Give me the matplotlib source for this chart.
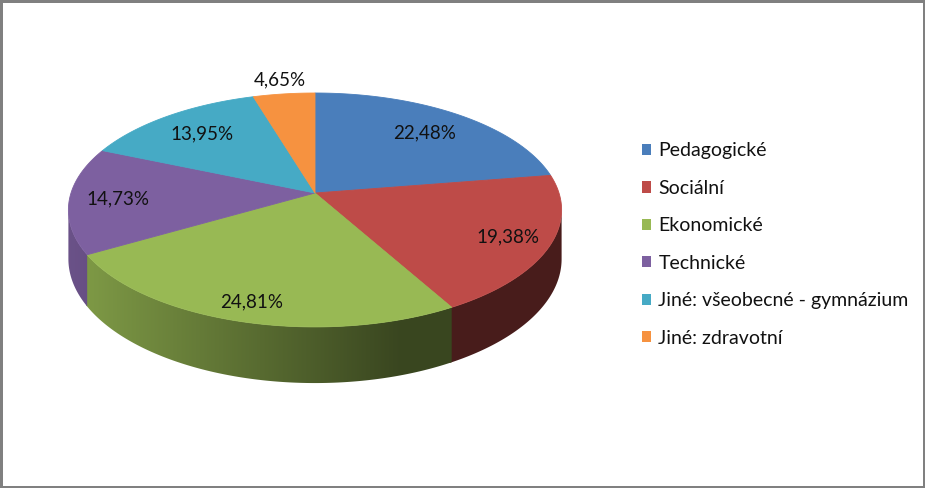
import numpy as np
import matplotlib.pyplot as plt
from matplotlib.patches import Patch, Polygon
from matplotlib.colors import to_rgb

categories = ["Pedagogické", "Sociální", "Ekonomické", "Technické",
              "Jiné: všeobecné - gymnázium", "Jiné: zdravotní"]
counts = [29, 25, 32, 19, 18, 6]
colors = ["#4a7ebb", "#be4b48", "#98b954", "#7d60a0", "#46aac5", "#f69240"]

plt.rcParams['font.family'] = ['Lato', 'DejaVu Sans']

# tilted pie, drawn in pixel units of the figure
CX, CY = 315, 193      # projected centre of the top face
RX, RY = 244, 114.5
PERSP = 0.145          # how much the far edge shrinks
DEPTH = 48


def project(u, v, z=0.0):
    s = 1.0 / (1.0 + PERSP * v)
    return CX + RX * u * s, CY - RY * v * s + z * DEPTH * s


def shade(u):
    # light comes from the left
    return np.clip(0.5 - 0.35 * u, 0.38, 0.86)


fig = plt.figure(figsize=(9.25, 4.88), dpi=100)
ax = fig.add_axes([0, 0, 1, 1])

frac = np.array(counts) / np.sum(counts)
edges = np.concatenate([[0], np.cumsum(frac)]) * 2 * np.pi  # clockwise from 12 o'clock

# visible part of the rim (between the two silhouette points)
vis0 = np.arccos(-PERSP)
vis1 = 2 * np.pi - vis0

# side walls: gradient images clipped to each slice's wall
for i in range(len(counts)):
    a0, a1 = max(edges[i], vis0), min(edges[i + 1] + 0.01, vis1)
    if a1 <= a0:
        continue
    t = np.linspace(a0, a1, 200)
    top = [project(np.sin(a), np.cos(a)) for a in t]
    bot = [project(np.sin(a), np.cos(a), 1) for a in t[::-1]]
    wall = Polygon(top + bot, closed=True, facecolor='none', edgecolor='none',
                   transform=ax.transData)
    ax.add_patch(wall)
    xs = np.array([p[0] for p in top + bot])
    ys = np.array([p[1] for p in top + bot])
    cols = np.linspace(xs.min(), xs.max(), 300)
    u = (cols - CX) / RX
    img = np.array([[tuple(c * f for c in to_rgb(colors[i])) for f in shade(u)]])
    im = ax.imshow(img, extent=(xs.min() - 1, xs.max() + 1, ys.max() + 1, ys.min() - 1),
                   aspect='auto', interpolation='bilinear')
    im.set_clip_path(wall)

# top faces and labels
for i in range(len(counts)):
    t = np.linspace(edges[i], edges[i + 1], max(4, int(frac[i] * 400)))
    pts = [project(0, 0)] + [project(np.sin(a), np.cos(a)) for a in t]
    ax.add_patch(Polygon(pts, closed=True, facecolor=colors[i],
                         edgecolor=colors[i], linewidth=0.6))

    mid = (edges[i] + edges[i + 1]) / 2
    vm = np.cos(mid)
    r = 0.80 - 0.07 * vm if frac[i] > 0.06 else 1.16
    x, y = project(r * np.sin(mid), r * vm)
    txt = f"{frac[i] * 100:.2f}".replace('.', ',') + "%"
    ax.text(x, y, txt, ha='center', va='center', fontsize=13.5, color='#111111')

ax.set_xlim(0, 925)
ax.set_ylim(488, 0)
ax.axis('off')

handles = [Patch(facecolor=c, edgecolor='none') for c in colors]
fig.legend(handles, categories, loc='center left',
           bbox_to_anchor=(624 / 925, 1 - 244.5 / 488), frameon=False,
           fontsize=14, handlelength=0.51, handleheight=0.51,
           handletextpad=0.36, labelspacing=1.05, labelcolor='#111111')

fig.patch.set_facecolor('white')
fig.patch.set_edgecolor('#808080')
fig.patch.set_linewidth(3.5)
fig.savefig('out.png', dpi=100, facecolor='white', edgecolor=fig.get_edgecolor())
